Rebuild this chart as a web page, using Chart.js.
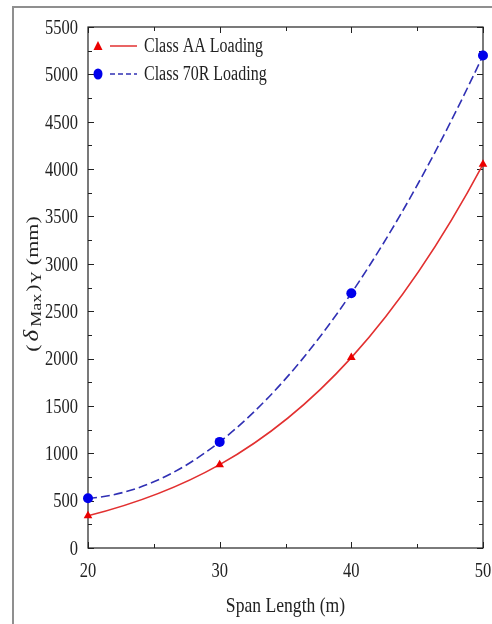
<!DOCTYPE html>
<html>
<head>
<meta charset="utf-8">
<script src="https://cdn.jsdelivr.net/npm/chart.js@4.4.0/dist/chart.umd.min.js"></script>
<style>
  html, body { margin: 0; padding: 0; background: #fff; }
  #wrap { width: 492px; height: 624px; }
</style>
</head>
<body>
<div id="wrap"><canvas id="deflection-chart" width="492" height="624"></canvas></div>
<script>
// Span length (m) vs. max vertical deflection (mm)
const spanLengths = [20, 30, 40, 50];
const classAA = [340, 880, 2010, 4050];
const class70R = [525, 1120, 2690, 5200];

const seriesNames = ['Class AA Loading', 'Class 70R Loading'];
const xTickLabels = [20, 30, 40, 50];

const SERIF = '"Liberation Serif", "DejaVu Serif", serif';
const INK = '#222';
const SQUASH = 0.8; // narrow glyphs, closer to the LaTeX look

// Red solid / blue dashed
const aaLine = 'rgb(226, 48, 48)';
const aaMark = 'rgb(235, 0, 0)';
const r70Line = 'rgb(48, 48, 180)';
const r70Mark = 'rgb(0, 0, 235)';

function toPoints(values) {
    return spanLengths.map((x, i) => ({ x: x, y: values[i] }));
}

function squashedText(ctx, text, x, y, align, font, squash) {
    ctx.save();
    ctx.translate(x, y);
    ctx.scale(squash || SQUASH, 1);
    ctx.font = font;
    ctx.textAlign = align;
    ctx.fillText(text, 0, 0);
    ctx.restore();
}

// Slope of the polynomial through all points, evaluated at point k
function polySlope(xs, ys, k) {
    let s = 0;
    for (let j = 0; j < xs.length; j++) {
        let d;
        if (j === k) {
            d = 0;
            for (let m = 0; m < xs.length; m++) if (m !== k) d += 1 / (xs[k] - xs[m]);
        } else {
            let num = 1, den = 1;
            for (let m = 0; m < xs.length; m++) {
                if (m === j) continue;
                den *= xs[j] - xs[m];
                if (m !== k) num *= xs[k] - xs[m];
            }
            d = num / den;
        }
        s += ys[j] * d;
    }
    return s;
}

// Smooth fitted curve: set the bezier handles from the polynomial slopes
const smoothFit = {
    id: 'smoothFit',
    beforeDatasetsDraw(chart) {
        chart.data.datasets.forEach((ds, i) => {
            const meta = chart.getDatasetMeta(i);
            const line = meta.dataset;
            const pts = meta.data;
            if (!line || pts.length < 2) return;
            line.updateControlPoints(chart.chartArea);
            const xs = pts.map(p => p.x);
            const ys = pts.map(p => p.y);
            pts.forEach((p, k) => {
                const s = polySlope(xs, ys, k);
                const hPrev = k > 0 ? (xs[k] - xs[k - 1]) / 3 : 0;
                const hNext = k < pts.length - 1 ? (xs[k + 1] - xs[k]) / 3 : 0;
                p.cp1x = p.x - hPrev; p.cp1y = p.y - s * hPrev;
                p.cp2x = p.x + hNext; p.cp2y = p.y + s * hNext;
            });
            line._pointsUpdated = true;
        });
    }
};

// Outer frame, axes box and inward ticks on all four sides
const frameTicks = {
    id: 'frameTicks',
    beforeDatasetsDraw(chart) {
        const { ctx, chartArea: a, scales: { x, y } } = chart;
        ctx.save();

        // thin grey page frame
        ctx.strokeStyle = '#8f8f8f';
        ctx.lineWidth = 2;
        ctx.beginPath();
        ctx.moveTo(13, 624);
        ctx.lineTo(13, 7);
        ctx.lineTo(492, 7);
        ctx.stroke();

        ctx.strokeStyle = INK;
        ctx.lineWidth = 1.2;
        ctx.strokeRect(a.left, a.top, a.width, a.height);

        ctx.lineWidth = 1;
        ctx.beginPath();
        for (let v = 20; v <= 50; v += 5) {
            const px = Math.round(x.getPixelForValue(v)) + 0.5;
            const len = v % 10 === 0 ? 6 : 4;
            ctx.moveTo(px, a.bottom); ctx.lineTo(px, a.bottom - len);
            ctx.moveTo(px, a.top); ctx.lineTo(px, a.top + len);
        }
        for (let v = 0; v <= 5500; v += 250) {
            const py = Math.round(y.getPixelForValue(v)) + 0.5;
            const len = v % 500 === 0 ? 6 : 4;
            ctx.moveTo(a.left, py); ctx.lineTo(a.left + len, py);
            ctx.moveTo(a.right, py); ctx.lineTo(a.right - len, py);
        }
        ctx.stroke();
        ctx.restore();
    }
};

// Tick labels and axis titles; the y title has subscripts so it is drawn piece by piece
const axisText = {
    id: 'axisText',
    afterDraw(chart) {
        const { ctx, chartArea: a, scales: { x, y } } = chart;
        ctx.save();
        ctx.fillStyle = INK;
        ctx.textBaseline = 'middle';

        const tickFont = '22px ' + SERIF;
        y.ticks.forEach(t => {
            squashedText(ctx, String(t.value), a.left - 10, y.getPixelForValue(t.value) + 1, 'right', tickFont, 0.75);
        });
        x.ticks.forEach(t => {
            squashedText(ctx, String(t.value), x.getPixelForValue(t.value), a.bottom + 23, 'center', tickFont, 0.75);
        });

        ctx.textBaseline = 'alphabetic';
        squashedText(ctx, 'Span Length (m)', (a.left + a.right) / 2, 612, 'center', '22px ' + SERIF);

        const parts = [
            { t: '(', size: 22, dy: 0, italic: false, gap: 3 },
            { t: 'δ', size: 25, dy: 0, italic: true, gap: 3 },
            { t: 'Max', size: 18, dy: 4, italic: false, gap: 2 },
            { t: ')', size: 22, dy: 0, italic: false, gap: 1 },
            { t: 'Y', size: 17, dy: 4, italic: false, gap: 6 },
            { t: '(mm)', size: 22, dy: 0, italic: false, gap: 0 }
        ];
        const fontOf = p => (p.italic ? 'italic ' : '') + p.size + 'px ' + SERIF;
        let total = 0;
        parts.forEach(p => {
            ctx.font = fontOf(p);
            p.w = ctx.measureText(p.t).width;
            total += p.w + p.gap;
        });

        ctx.translate(38, 284);
        ctx.rotate(-Math.PI / 2);
        ctx.scale(1, SQUASH);
        ctx.textAlign = 'left';
        let cx = -total / 2;
        parts.forEach(p => {
            ctx.font = fontOf(p);
            ctx.fillText(p.t, cx, p.dy);
            cx += p.w + p.gap;
        });
        ctx.restore();
    }
};

// Legend in the upper-left corner: marker, line sample, label
const cornerLegend = {
    id: 'cornerLegend',
    afterDatasetsDraw(chart) {
        const { ctx } = chart;
        const rows = [
            { y: 46, line: aaLine, mark: aaMark, dash: [], shape: 'triangle' },
            { y: 74, line: r70Line, mark: r70Mark, dash: [5, 3], shape: 'circle' }
        ];
        ctx.save();
        rows.forEach((r, i) => {
            ctx.strokeStyle = r.line;
            ctx.lineWidth = 1.5;
            ctx.setLineDash(r.dash);
            ctx.beginPath();
            ctx.moveTo(110, r.y);
            ctx.lineTo(137, r.y);
            ctx.stroke();
            ctx.setLineDash([]);

            ctx.fillStyle = r.mark;
            ctx.beginPath();
            if (r.shape === 'triangle') {
                ctx.moveTo(98, r.y - 5);
                ctx.lineTo(102.5, r.y + 4);
                ctx.lineTo(93.5, r.y + 4);
                ctx.closePath();
            } else {
                ctx.ellipse(98, r.y, 4.5, 5.5, 0, 0, Math.PI * 2);
            }
            ctx.fill();

            ctx.fillStyle = INK;
            ctx.textBaseline = 'middle';
            squashedText(ctx, seriesNames[i], 144, r.y + 1, 'left', '20px ' + SERIF);
        });
        ctx.restore();
    }
};

new Chart(document.getElementById('deflection-chart'), {
    type: 'line',
    data: {
        datasets: [
            {
                label: seriesNames[0],
                data: toPoints(classAA),
                borderColor: aaLine,
                borderWidth: 1.6,
                backgroundColor: aaMark,
                pointBackgroundColor: aaMark,
                pointBorderColor: aaMark,
                pointStyle: 'triangle',
                pointRadius: 5,
                pointBorderWidth: 0,
                cubicInterpolationMode: 'monotone',
                clip: false
            },
            {
                label: seriesNames[1],
                data: toPoints(class70R),
                borderColor: r70Line,
                borderWidth: 1.6,
                borderDash: [9, 4],
                backgroundColor: r70Mark,
                pointBackgroundColor: r70Mark,
                pointBorderColor: r70Mark,
                pointStyle: 'circle',
                pointRadius: 5,
                pointBorderWidth: 0,
                cubicInterpolationMode: 'monotone',
                clip: false
            }
        ]
    },
    options: {
        responsive: false,
        animation: false,
        devicePixelRatio: 1,
        layout: { padding: { left: 0, top: 27, right: 9, bottom: 0 } },
        plugins: {
            legend: { display: false },
            tooltip: { enabled: false }
        },
        scales: {
            x: {
                type: 'linear',
                min: 20,
                max: 50,
                afterFit: s => { s.height = 76; s.paddingLeft = 0; s.paddingRight = 0; },
                afterBuildTicks: s => { s.ticks = xTickLabels.map(v => ({ value: v })); },
                grid: { display: false, drawTicks: false },
                border: { display: false },
                ticks: { display: false }
            },
            y: {
                min: 0,
                max: 5500,
                afterFit: s => { s.width = 88; s.paddingTop = 0; s.paddingBottom = 0; },
                grid: { display: false, drawTicks: false },
                border: { display: false },
                ticks: { display: false, stepSize: 500 }
            }
        }
    },
    plugins: [smoothFit, frameTicks, axisText, cornerLegend]
});
</script>
</body>
</html>
